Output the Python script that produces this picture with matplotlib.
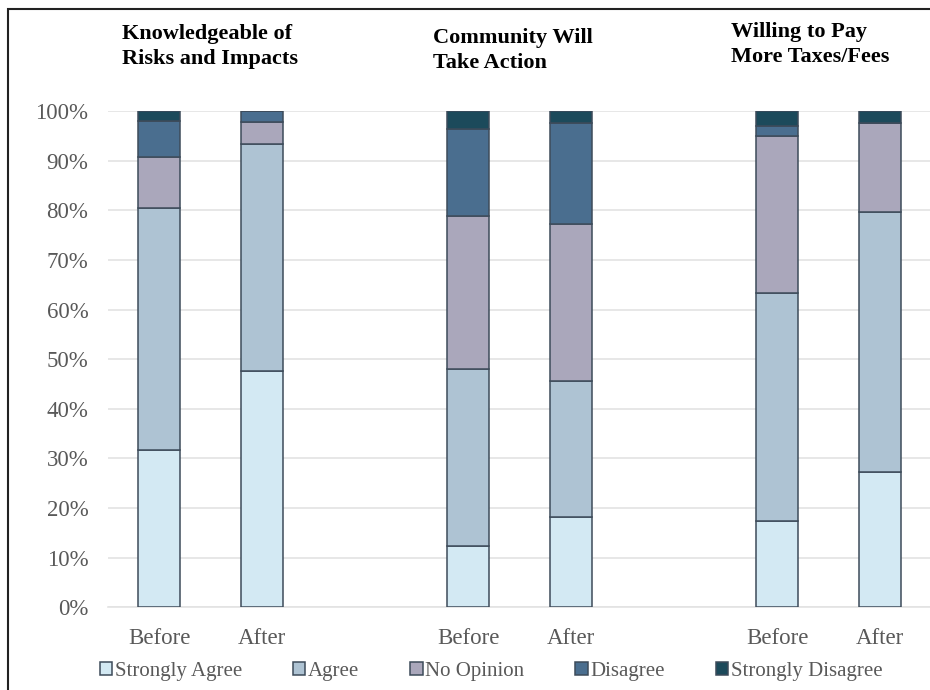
import matplotlib.pyplot as plt
from matplotlib.patches import Rectangle

plt.rcParams['font.family'] = ['Liberation Serif', 'DejaVu Serif']

# Survey responses, percent of respondents (Before / After for each question)
bar_labels = ["Before", "After", "Before", "After", "Before", "After"]
positions = [0, 1, 3, 4, 6, 7]
questions = ["Knowledgeable of\nRisks and Impacts",
             "Community Will\nTake Action",
             "Willing to Pay\nMore Taxes/Fees"]

strongly_agree = [31.6, 47.7, 12.3, 18.1, 17.4, 27.3]
agree = [48.8, 45.6, 35.7, 27.4, 46.0, 52.4]
no_opinion = [10.3, 4.5, 30.9, 31.7, 31.6, 18.0]
disagree = [7.4, 2.2, 17.5, 20.5, 2.0, 0.0]
strongly_disagree = [1.9, 0.0, 3.6, 2.3, 3.0, 2.3]

series = [("Strongly Agree", strongly_agree, "#d3e9f3"),
          ("Agree", agree, "#aec3d3"),
          ("No Opinion", no_opinion, "#aaa7bb"),
          ("Disagree", disagree, "#4a6e8f"),
          ("Strongly Disagree", strongly_disagree, "#1c4a5b")]

fig = plt.figure(figsize=(9.3, 6.9), dpi=100)
ax = fig.add_axes([0.116, 0.120, 0.886, 0.719])

bottom = [0.0] * len(positions)
for name, vals, col in series:
    ax.bar(positions, vals, width=0.41, bottom=bottom, color=col,
           edgecolor="#3d4b5a", linewidth=1.1, label=name, zorder=3)
    bottom = [b + v for b, v in zip(bottom, vals)]

ax.set_xlim(-0.5, 7.5)
ax.set_ylim(0, 100)
ax.set_yticks(range(0, 101, 10))
ax.set_yticklabels([f"{t}%" for t in range(0, 101, 10)])
ax.set_xticks(positions)
ax.set_xticklabels(bar_labels)
ax.tick_params(axis="both", length=0, labelsize=16.5, labelcolor="#595959")
ax.tick_params(axis="y", pad=14)
ax.tick_params(axis="x", pad=15)
ax.yaxis.grid(True, color="#e3e3e3", linewidth=1.2, zorder=0)
for s in ["top", "right", "left"]:
    ax.spines[s].set_visible(False)
ax.spines["bottom"].set_color("#e3e3e3")
ax.spines["bottom"].set_linewidth(1.2)

# question titles above each pair of bars
title_x = [122, 433, 731]
title_y = [24, 28, 22]
for q, tx, ty in zip(questions, title_x, title_y):
    fig.text(tx / 930, 1 - ty / 690, q, ha="left", va="top", fontsize=16,
             fontweight="bold", linespacing=1.35)

ax.legend(loc="center", bbox_to_anchor=(0.528, 0.027),
          bbox_transform=fig.transFigure, ncol=5, frameon=False,
          fontsize=15, handlelength=0.6, handleheight=0.6,
          handletextpad=0.12, columnspacing=2.45, labelcolor="#595959")

# thin frame around the chart area
fig.patches.append(Rectangle((8 / 930, -0.1), 1.2, 1 - 9 / 690 + 0.1,
                             transform=fig.transFigure, fill=False,
                             edgecolor="#222222", linewidth=1.5))

fig.savefig("out.png", dpi=100)
